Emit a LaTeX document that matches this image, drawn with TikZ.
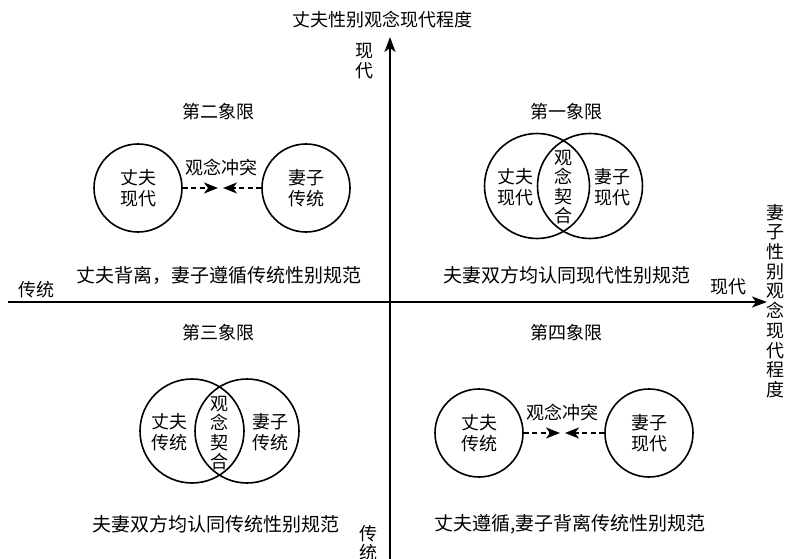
\documentclass[tikz,border=0pt]{standalone}
\usepackage{fontspec}
\newfontfamily\cjk{Noto Sans CJK SC}
\usetikzlibrary{arrows.meta,positioning}
\tikzset{
  axis/.style={line width=2.2pt,-{Stealth[length=15pt,width=11pt,inset=4pt]}},
  ring/.style={circle,draw,line width=1.6pt,inner sep=0pt,minimum size=#1,align=center},
  ring/.default=88pt,
  clash/.style={line width=1.6pt,dash pattern=on 5pt off 3.5pt,-{Stealth[length=14pt,width=11pt,inset=4pt]}},
  caption/.style={font=\cjk\fontsize{19}{21}\selectfont},
  stack/.style={align=center,font=\cjk\fontsize{18}{19.5}\selectfont,inner sep=0pt},
  pair/.style={align=center,inner sep=0pt}
}
\begin{document}
\begin{tikzpicture}[x=1pt,y=-1pt,font=\cjk\fontsize{18}{21}\selectfont]
	\useasboundingbox (0,0) rectangle (788,559);
	% axes
	\coordinate (xl) at (8,302);
	\coordinate (xr) at (767,302);
	\coordinate (yb) at (390,559);
	\coordinate (yt) at (390,37);
	\draw[axis] (xl) -- (xr);
	\draw[axis] (yb) -- (yt);
	\node (ytitle) at (382,20) {丈夫性别观念现代程度};
	\node[stack] (ytop) at (364,61) {现\\代};
	\node[stack] (ybot) at (368,543) {传\\统};
	\node (xleft) at (37,290) {传统};
	\node (xright) at (728,287) {现代};
	\node[stack,font=\cjk\fontsize{18}{19.7}\selectfont] (xtitle) at (775,301) {妻\\子\\性\\别\\观\\念\\现\\代\\程\\度};
	% quadrant titles
	\node (q1) at (566,112) {第一象限};
	\node (q2) at (218,112) {第二象限};
	\node (q3) at (218,333) {第三象限};
	\node (q4) at (566,333) {第四象限};
	% quadrant II: conflict
	\node[ring] (h2) at (138,188) {丈夫\\现代};
	\node[ring] (w2) at (306,188) {妻子\\传统};
	\coordinate (h2tip) at (218,188);
	\coordinate (w2tip) at (223,188);
	\draw[clash] (h2) -- (h2tip);
	\draw[clash] (w2) -- (w2tip);
	\node (c2) at (221,168) {观念冲突};
	\node[caption] (cap2) at (219,275) {丈夫背离，妻子遵循传统性别规范};
	% quadrant I: agreement
	\node[ring=105pt] (h1) at (537,186) {};
	\node[ring=105pt] (w1) at (590,186) {};
	\node[pair] (h1t) at (515,187) {丈夫\\现代};
	\node[pair] (w1t) at (612,187) {妻子\\现代};
	\node[stack] (a1) at (563,187) {观\\念\\契\\合};
	\node[caption] (cap1) at (567,275) {夫妻双方均认同现代性别规范};
	% quadrant III: agreement
	\node[ring=104pt] (h3) at (192,431) {};
	\node[ring=104pt] (w3) at (247,431) {};
	\node[pair] (h3t) at (169,432) {丈夫\\传统};
	\node[pair] (w3t) at (270,432) {妻子\\传统};
	\node[stack] (a3) at (219,433) {观\\念\\契\\合};
	\node[caption] (cap3) at (216,524) {夫妻双方均认同传统性别规范};
	% quadrant IV: conflict
	\node[ring] (h4) at (479,433) {丈夫\\传统};
	\node[ring] (w4) at (649,433) {妻子\\现代};
	\coordinate (h4tip) at (560,433);
	\coordinate (w4tip) at (565,433);
	\draw[clash] (h4) -- (h4tip);
	\draw[clash] (w4) -- (w4tip);
	\node (c4) at (562,413) {观念冲突};
	\node[caption] (cap4) at (570,524) {丈夫遵循,妻子背离传统性别规范};
\end{tikzpicture}
\end{document}
